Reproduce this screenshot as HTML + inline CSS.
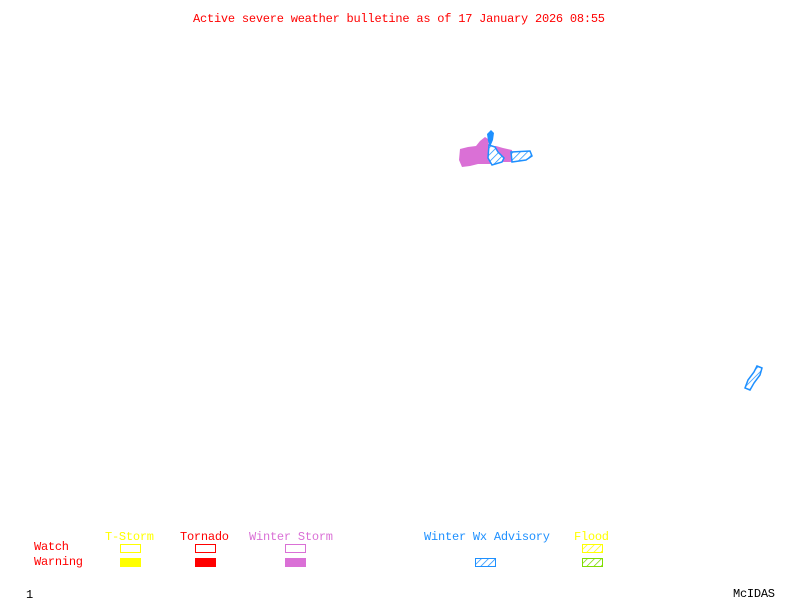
<!DOCTYPE html>
<html><head><meta charset="utf-8"><style>
html,body{margin:0;padding:0;background:#fff;width:800px;height:600px;overflow:hidden}
text{font-family:"Liberation Mono","DejaVu Sans Mono",monospace;font-size:12px}
</style></head><body>
<svg width="800" height="600" viewBox="0 0 800 600" xmlns="http://www.w3.org/2000/svg">
<defs>
<pattern id="hb" width="5" height="5" patternUnits="userSpaceOnUse" patternTransform="rotate(45)"><rect width="5" height="5" fill="#fff"/><line x1="0" y1="0" x2="0" y2="5" stroke="#1e90ff" stroke-width="1.5"/></pattern>
<pattern id="hy" width="5" height="5" patternUnits="userSpaceOnUse" patternTransform="rotate(45)"><rect width="5" height="5" fill="#fff"/><line x1="0" y1="0" x2="0" y2="5" stroke="#ffff00" stroke-width="1.5"/></pattern>
<pattern id="hg" width="5" height="5" patternUnits="userSpaceOnUse" patternTransform="rotate(45)"><rect width="5" height="5" fill="#fff"/><line x1="0" y1="0" x2="0" y2="5" stroke="#7fdd00" stroke-width="1.5"/></pattern>
</defs>
<text x="193" y="22" fill="#ff0000" textLength="412">Active severe weather bulletine as of 17 January 2026 08:55</text>

<polygon points="460,149 468,147 476,146 480,141 485,137 488,139 489,146 496,146 503,148 512,150 512,162 500,162 490,164 478,164 470,166 462,167 459,160" fill="#da70d6"/>
<polygon points="487,134 491,130 494,133 493,140 490,147 488,141" fill="#1e90ff"/>
<polygon points="489,145 495,147 498,152 504,158 502,162 492,165 488,158" fill="url(#hb)" stroke="#1e90ff" stroke-width="1.5"/>
<polygon points="511,152 530,151 532,156 526,160 512,162" fill="url(#hb)" stroke="#1e90ff" stroke-width="1.5"/>

<polygon points="757,366 762,368 760,375 754,383 750,390 745,388 748,380 754,372" fill="url(#hb)" stroke="#1e90ff" stroke-width="1.5"/>

<text x="105" y="540" fill="#ffff00" textLength="49">T-Storm</text>
<text x="180" y="540" fill="#ff0000" textLength="49">Tornado</text>
<text x="249" y="540" fill="#da70d6" textLength="84">Winter Storm</text>
<text x="424" y="540" fill="#1e90ff" textLength="126">Winter Wx Advisory</text>
<text x="574" y="540" fill="#ffff00" textLength="35">Flood</text>
<text x="34" y="550" fill="#ff0000" textLength="35">Watch</text>
<text x="34" y="565" fill="#ff0000" textLength="49">Warning</text>

<rect x="120.5" y="544.5" width="20" height="8" fill="none" stroke="#ffff00"/>
<rect x="195.5" y="544.5" width="20" height="8" fill="none" stroke="#ff0000"/>
<rect x="285.5" y="544.5" width="20" height="8" fill="none" stroke="#da70d6"/>
<rect x="582.5" y="544.5" width="20" height="8" fill="url(#hy)" stroke="#ffff00"/>

<rect x="120" y="558" width="21" height="9" fill="#ffff00"/>
<rect x="195" y="558" width="21" height="9" fill="#ff0000"/>
<rect x="285" y="558" width="21" height="9" fill="#da70d6"/>
<rect x="475.5" y="558.5" width="20" height="8" fill="url(#hb)" stroke="#1e90ff"/>
<rect x="582.5" y="558.5" width="20" height="8" fill="url(#hg)" stroke="#7fdd00"/>

<text x="26" y="598" fill="#000">1</text>
<text x="733" y="597" fill="#000" textLength="42">McIDAS</text>
</svg>
</body></html>
